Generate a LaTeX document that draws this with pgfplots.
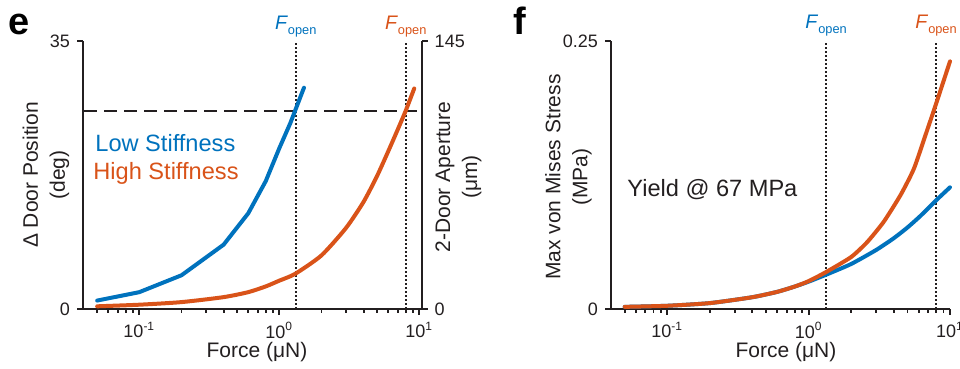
\documentclass[border=0pt]{standalone}
\usepackage{pgfplots}
\pgfplotsset{compat=1.18}
\usepackage{fontspec}
\setmainfont{Liberation Sans}
\definecolor{myblue}{RGB}{0,114,189}
\definecolor{myred}{RGB}{217,83,25}
\definecolor{axblack}{RGB}{35,31,32}
\pgfplotsset{
  myaxis/.style={
    scale only axis, anchor=south west,
    axis line style={line width=1pt, -, axblack},
    tick align=outside,
    major tick length=3pt, minor tick length=2pt,
    every tick/.style={line width=0.9pt, axblack},
    ticklabel style={font=\fontsize{9}{10}\selectfont, text=axblack},
    clip=false,
    xtick={0.1,1,10},
    xticklabels={10\textsuperscript{-1},10\textsuperscript{0},10\textsuperscript{1}},
    minor xtick={0.05,0.06,0.07,0.08,0.09,0.2,0.3,0.4,0.5,0.6,0.7,0.8,0.9,2,3,4,5,6,7,8,9},
  },
}
\tikzset{
  mycurve/.style={line width=2pt, line join=round, line cap=round},
  vdot/.style={axblack, line width=0.8pt, dash pattern=on 0.8pt off 1.2pt},
}
\newcommand{\Fopen}{\fontsize{9.8}{10}\selectfont\textit{F}\raisebox{-2.5pt}{\fontsize{6.4}{7}\selectfont open}}
\begin{document}
\begin{tikzpicture}
\useasboundingbox (0,0) rectangle (480pt,184.5pt);
% ---------------- panel e ----------------
\begin{axis}[xmode=log, myaxis,
  at={(41.5pt,30pt)}, width=169.35pt, height=134pt,
  xmin=0.0396, xmax=10.4, ymin=0, ymax=35,
  axis x line*=bottom, axis y line*=left,
  ytick={0,35}, yticklabels={0,35},
]
\addplot[vdot] coordinates {(1.31,0) (1.31,35)};
\addplot[vdot] coordinates {(8.0,0) (8.0,35)};
\addplot[axblack, line width=1pt, dash pattern=on 6.5pt off 3.5pt] coordinates {(0.0405,25.9) (10.2,25.9)};
\addplot[mycurve, myblue] coordinates {
(0.05,1.1) (0.1,2.2) (0.2,4.4) (0.4,8.4) (0.6,12.5) (0.8,16.7) (1.0,21.0) (1.2,24.3) (1.5,28.9)};
\addplot[mycurve, myred, smooth, tension=0.4] coordinates {
(0.05,0.35) (0.1,0.56) (0.2,0.9) (0.4,1.55) (0.6,2.2) (0.8,2.95) (1.0,3.7) (1.3,4.6) (2,7.0) (3,10.6) (4,14.0) (5,17.4) (6,20.6) (7,23.4) (8,25.9) (9.2,28.8)};
\node[anchor=base, yshift=6pt, text=myblue, inner sep=0pt] at (axis cs:1.31,35) {\Fopen};
\node[anchor=base, yshift=6pt, text=myred, inner sep=0pt] at (axis cs:8.0,35) {\Fopen};
\end{axis}
\begin{axis}[xmode=log, myaxis,
  at={(41.5pt,30pt)}, width=169.35pt, height=134pt,
  xmin=0.0396, xmax=10.4, ymin=0, ymax=145,
  axis x line=none, axis y line*=right,
  ytick={0,145}, yticklabels={0,145},
]
\end{axis}
% ---------------- panel f ----------------
\begin{axis}[xmode=log, myaxis,
  at={(305.5pt,30pt)}, width=169.5pt, height=134pt,
  xmin=0.04, xmax=10, ymin=0, ymax=0.25,
  axis x line*=bottom, axis y line*=left,
  ytick={0,0.25}, yticklabels={0,0.25},
]
\addplot[vdot] coordinates {(1.33,0) (1.33,0.25)};
\addplot[vdot] coordinates {(7.97,0) (7.97,0.25)};
\addplot[mycurve, myblue, smooth, tension=0.35] coordinates {
(0.05,0.002) (0.1,0.003) (0.2,0.0055) (0.4,0.011) (0.6,0.016) (0.8,0.021) (1.0,0.0255) (1.33,0.032) (2,0.042) (3,0.055) (4,0.066) (5,0.076) (6.2,0.087) (8,0.1015) (10,0.1135)};
\addplot[mycurve, myred, smooth, tension=0.35] coordinates {
(0.05,0.002) (0.1,0.003) (0.2,0.0055) (0.4,0.011) (0.6,0.016) (0.8,0.021) (1.0,0.026) (1.33,0.0345) (2,0.0485) (2.6,0.0625) (3.4,0.0814) (4.47,0.1063) (5.56,0.131) (6.9,0.167) (8,0.192) (10,0.231)};
\node[anchor=base, yshift=6pt, text=myblue, inner sep=0pt] at (axis cs:1.33,0.25) {\Fopen};
\node[anchor=base, yshift=6pt, text=myred, inner sep=0pt] at (axis cs:7.97,0.25) {\Fopen};
\end{axis}
% ---------------- text ----------------
\node[anchor=base west, inner sep=0pt, font=\fontsize{19}{19}\selectfont\bfseries] at (4pt,167pt) {e};
\node[anchor=base west, inner sep=0pt, font=\fontsize{19}{19}\selectfont\bfseries] at (256.5pt,167pt) {f};
\node[rotate=90, align=center, font=\fontsize{10.5}{13.5}\selectfont, text=axblack] at (23pt,97pt) {Δ Door Position\\(deg)};
\node[rotate=90, align=center, font=\fontsize{10.5}{13.5}\selectfont, text=axblack] at (229.25pt,96pt) {2-Door Aperture\\(μm)};
\node[rotate=90, align=center, font=\fontsize{10.5}{13.5}\selectfont, text=axblack] at (284.25pt,96pt) {Max von Mises Stress\\(MPa)};
\node[anchor=base, inner sep=0pt, font=\fontsize{10.5}{12}\selectfont, text=axblack] at (128.5pt,5.5pt) {Force (μN)};
\node[anchor=base, inner sep=0pt, font=\fontsize{10.5}{12}\selectfont, text=axblack] at (393pt,5.5pt) {Force (μN)};
\node[anchor=base west, inner sep=0pt, font=\fontsize{11.8}{12}\selectfont, text=myblue] at (47.5pt,108.5pt) {Low Stiffness};
\node[anchor=base west, inner sep=0pt, font=\fontsize{11.8}{12}\selectfont, text=myred] at (46.5pt,94.5pt) {High Stiffness};
\node[anchor=base west, inner sep=0pt, font=\fontsize{11.8}{12}\selectfont, text=axblack] at (313.5pt,86pt) {Yield @ 67 MPa};
\end{tikzpicture}
\end{document}
